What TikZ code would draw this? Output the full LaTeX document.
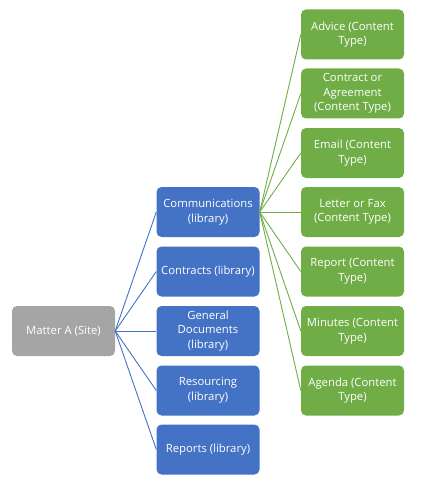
\documentclass[tikz,border=0pt]{standalone}
\usepackage{fontspec}
\setmainfont{Open Sans}
\definecolor{gbox}{HTML}{A5A5A5}
\definecolor{bbox}{HTML}{4472C4}
\definecolor{grbox}{HTML}{70AD47}
\begin{document}
\begin{tikzpicture}[x=1pt,y=-1pt,
  boxbase/.style={rounded corners=5pt, minimum width=103pt, minimum height=50pt, text=white, align=center, inner sep=1pt, font=\fontsize{11.3}{14.6}\selectfont},
  site/.style={boxbase, fill=gbox},
  lib/.style={boxbase, fill=bbox},
  ctype/.style={boxbase, fill=grbox},
  blink/.style={draw=bbox, line width=0.9pt},
  glink/.style={draw=grbox, line width=0.9pt}]
\useasboundingbox (0,0) rectangle (438,484);
\node[site] (site) at (63.5,331) {Matter A (Site)};
\node[lib] (comm) at (208,212) {Communications\\(library)};
\node[lib] (contr) at (208,271.5) {Contracts (library)};
\node[lib] (gen) at (208,331) {General\\Documents\\(library)};
\node[lib] (res) at (208,390.5) {Resourcing\\(library)};
\node[lib] (rep) at (208,449.5) {Reports (library)};
\node[ctype] (adv) at (352.5,34.5) {Advice (Content\\Type)};
\node[ctype] (agr) at (352.5,93.5) {Contract or\\Agreement\\(Content Type)};
\node[ctype] (em) at (352.5,153) {Email (Content\\Type)};
\node[ctype] (let) at (352.5,212) {Letter or Fax\\(Content Type)};
\node[ctype] (rpt) at (352.5,271.5) {Report (Content\\Type)};
\node[ctype] (min) at (352.5,331) {Minutes (Content\\Type)};
\node[ctype] (age) at (352.5,390.5) {Agenda (Content\\Type)};
\foreach \t in {comm,contr,gen,res,rep}
  \draw[blink] (site.east) -- (\t.west);
\foreach \t in {adv,agr,em,let,rpt,min,age}
  \draw[glink] (comm.east) -- (\t.west);
\end{tikzpicture}
\end{document}
